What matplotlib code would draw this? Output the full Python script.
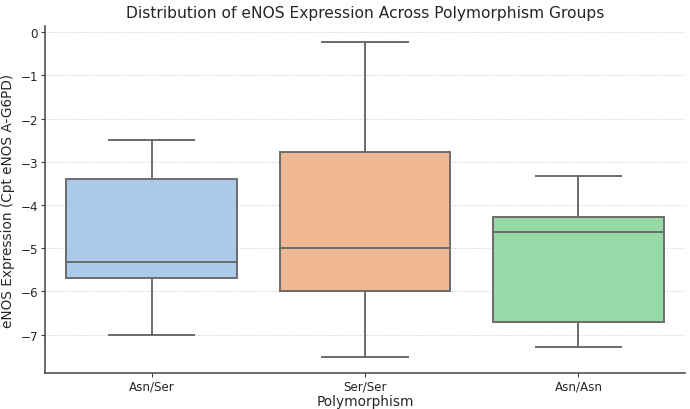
import matplotlib
matplotlib.use("Agg")
import matplotlib.pyplot as plt

groups = ['Asn/Ser', 'Ser/Ser', 'Asn/Asn']
whis_low = [-7.0, -7.52, -7.28]
q1 = [-5.68, -5.98, -6.70]
medians = [-5.33, -5.00, -4.62]
q3 = [-3.40, -2.78, -4.28]
whis_high = [-2.50, -0.23, -3.32]
colors = ['#abc9ea', '#efb792', '#98daa7']

stats = []
for i, g in enumerate(groups):
    stats.append({'label': g, 'whislo': whis_low[i], 'q1': q1[i], 'med': medians[i],
                  'q3': q3[i], 'whishi': whis_high[i], 'fliers': []})

fig = plt.figure(figsize=(6.9, 4.1), dpi=100)
ax = fig.add_axes([0.065, 0.088, 0.928, 0.845])

line_col = '#6b6b6b'
bp = ax.bxp(stats, positions=range(len(groups)), widths=0.8, patch_artist=True,
            showfliers=False,
            boxprops=dict(edgecolor=line_col, linewidth=1.4),
            whiskerprops=dict(color=line_col, linewidth=1.4),
            capprops=dict(color=line_col, linewidth=1.4),
            medianprops=dict(color=line_col, linewidth=1.4))
for patch, c in zip(bp['boxes'], colors):
    patch.set_facecolor(c)
# seaborn style caps: half of box width
for cap in bp['caps']:
    xd = cap.get_xdata()
    mid = (xd[0] + xd[1]) / 2
    cap.set_xdata([mid - 0.2, mid + 0.2])

ax.set_xlim(-0.5, 2.5)
ax.set_ylim(-7.885, 0.13)
ax.set_yticks(range(-7, 1))
ax.set_yticklabels(['\u22127', '\u22126', '\u22125', '\u22124', '\u22123', '\u22122', '\u22121', '0'])
ax.yaxis.grid(True, linestyle=':', color='#cccccc', linewidth=0.8)
ax.set_axisbelow(True)
for s in ['top', 'right']:
    ax.spines[s].set_visible(False)
for s in ['left', 'bottom']:
    ax.spines[s].set_color('#444444')
    ax.spines[s].set_linewidth(1.1)
ax.tick_params(axis='both', colors='#444444', labelcolor='#262626', labelsize=8.6, length=3, pad=2)

ax.set_title('Distribution of eNOS Expression Across Polymorphism Groups', fontsize=11.2, color='#262626', pad=7)
ax.set_xlabel('Polymorphism', fontsize=9.8, color='#262626', labelpad=1)
ax.set_ylabel('eNOS Expression (Cpt eNOS A-G6PD)', fontsize=9.8, color='#262626', labelpad=4)

fig.savefig('out.png', dpi=100)
